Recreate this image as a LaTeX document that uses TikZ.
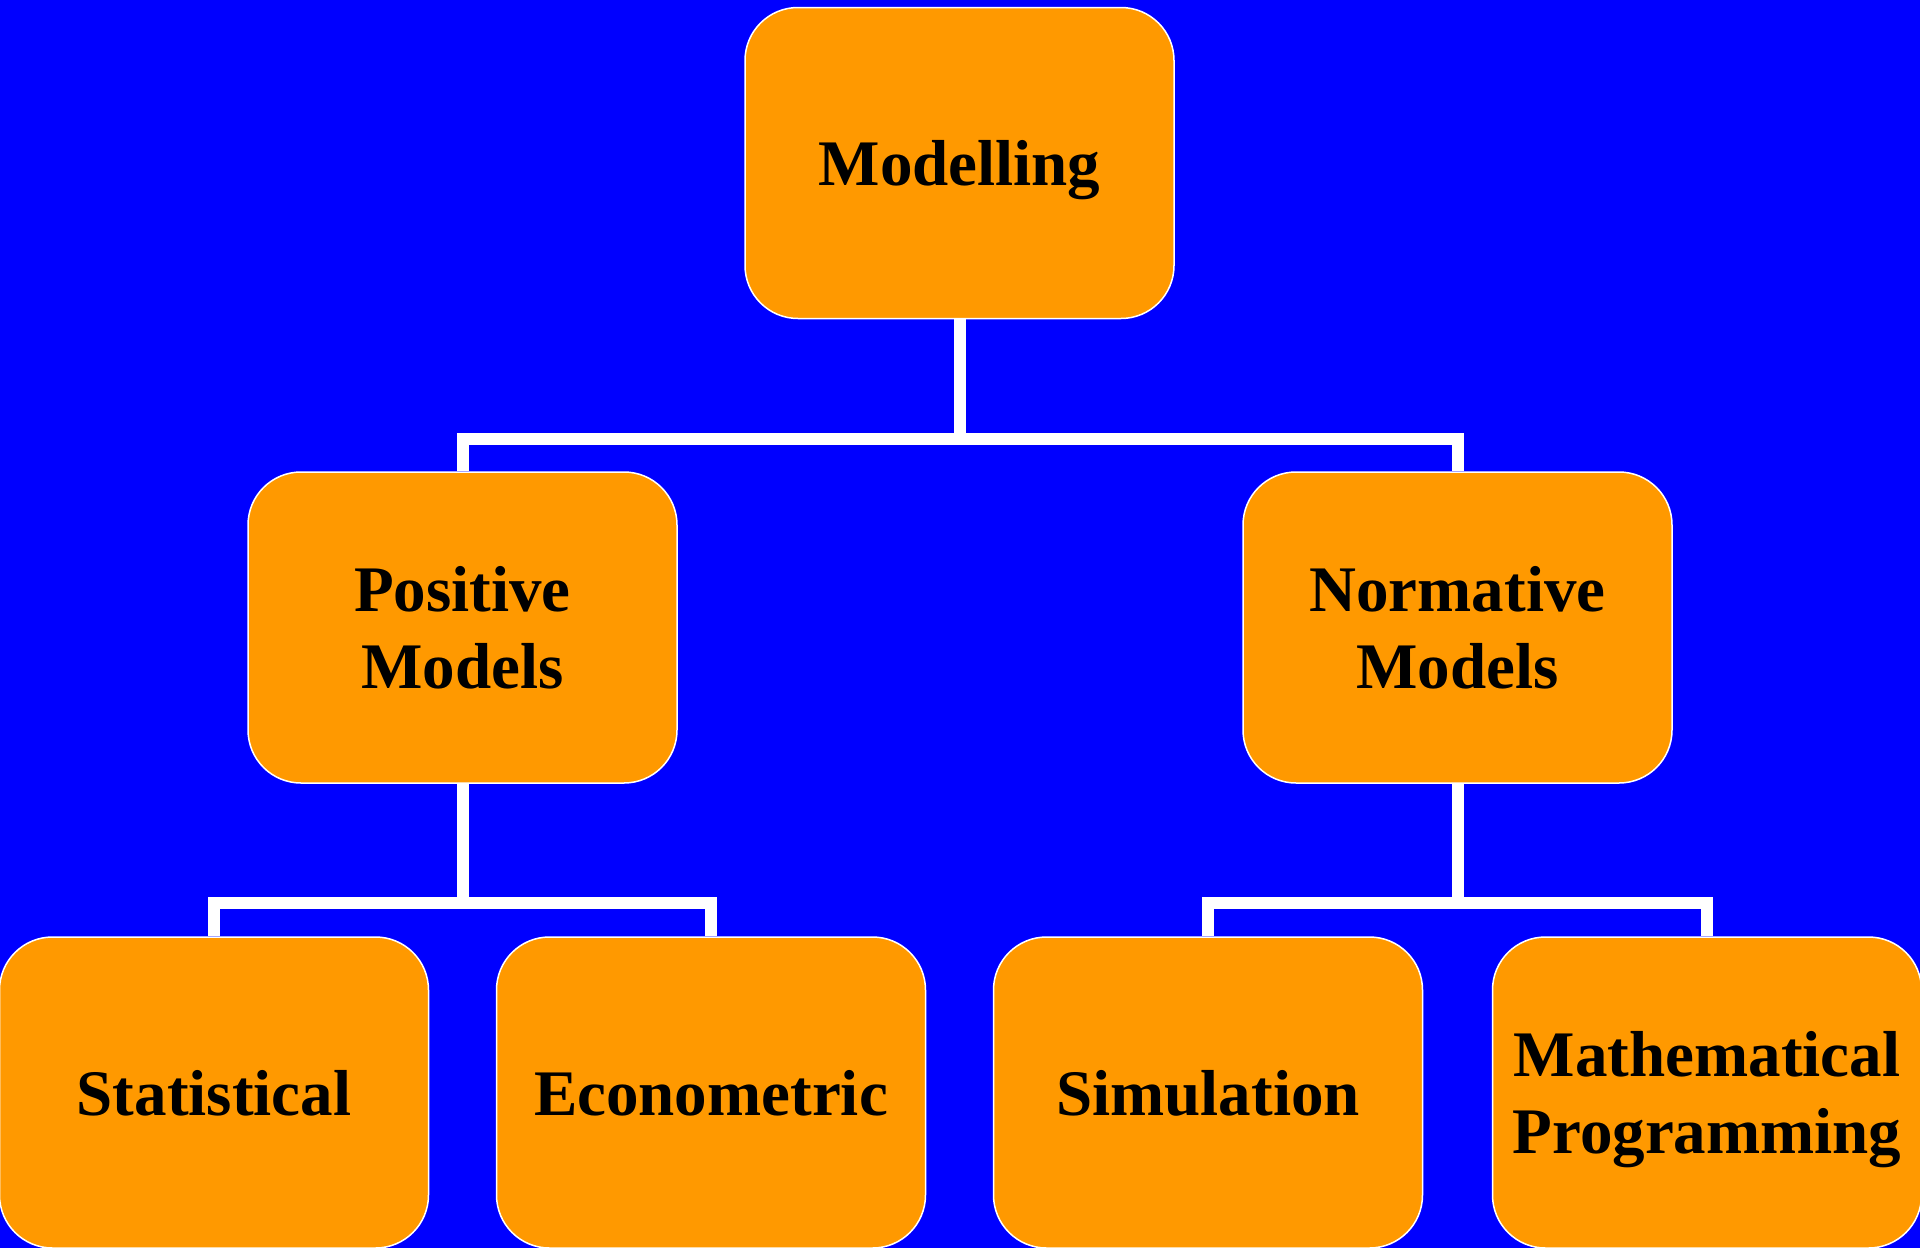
\documentclass[tikz,border=0pt]{standalone}
\usepackage{fontspec}
\setmainfont{Liberation Serif}
\definecolor{bgblue}{RGB}{0,0,255}
\definecolor{boxorange}{RGB}{255,153,0}
\begin{document}
\begin{tikzpicture}[x=1pt,y=-1pt,
  box/.style={draw=white, line width=1.5pt, fill=boxorange, rounded corners=53pt,
    minimum width=429pt, minimum height=311pt, inner sep=0pt,
    align=center, text depth=0pt,
    font=\fontsize{65}{77}\selectfont\bfseries},
  conn/.style={draw=white, line width=12pt, line join=miter}]
\fill[bgblue] (0,0) rectangle (1920,1248);
\useasboundingbox (0,0) rectangle (1920,1248);
\node[box] (mod) at (959.5,163) {Modelling};
\node[box] (pos) at (462.5,627.5) {Positive\\Models};
\node[box] (nor) at (1457.5,627.5) {Normative\\Models};
\node[box] (sta) at (214,1092.5) {Statistical};
\node[box] (eco) at (711,1092.5) {Econometric};
\node[box] (sim) at (1208,1092.5) {Simulation};
\node[box] (mat) at (1707,1092.5) {Mathematical\\Programming};
\coordinate (busA) at (959.5,438.5);
\coordinate (busB) at (462.5,903);
\coordinate (busC) at (1457.5,903);
\draw[conn] (mod.south) -- (busA);
\draw[conn] (pos.north) -- (pos.north |- busA) -- (nor.north |- busA) -- (nor.north);
\draw[conn] (pos.south) -- (busB);
\draw[conn] (sta.north) -- (sta.north |- busB) -- (eco.north |- busB) -- (eco.north);
\draw[conn] (nor.south) -- (busC);
\draw[conn] (sim.north) -- (sim.north |- busC) -- (mat.north |- busC) -- (mat.north);
\end{tikzpicture}
\end{document}
